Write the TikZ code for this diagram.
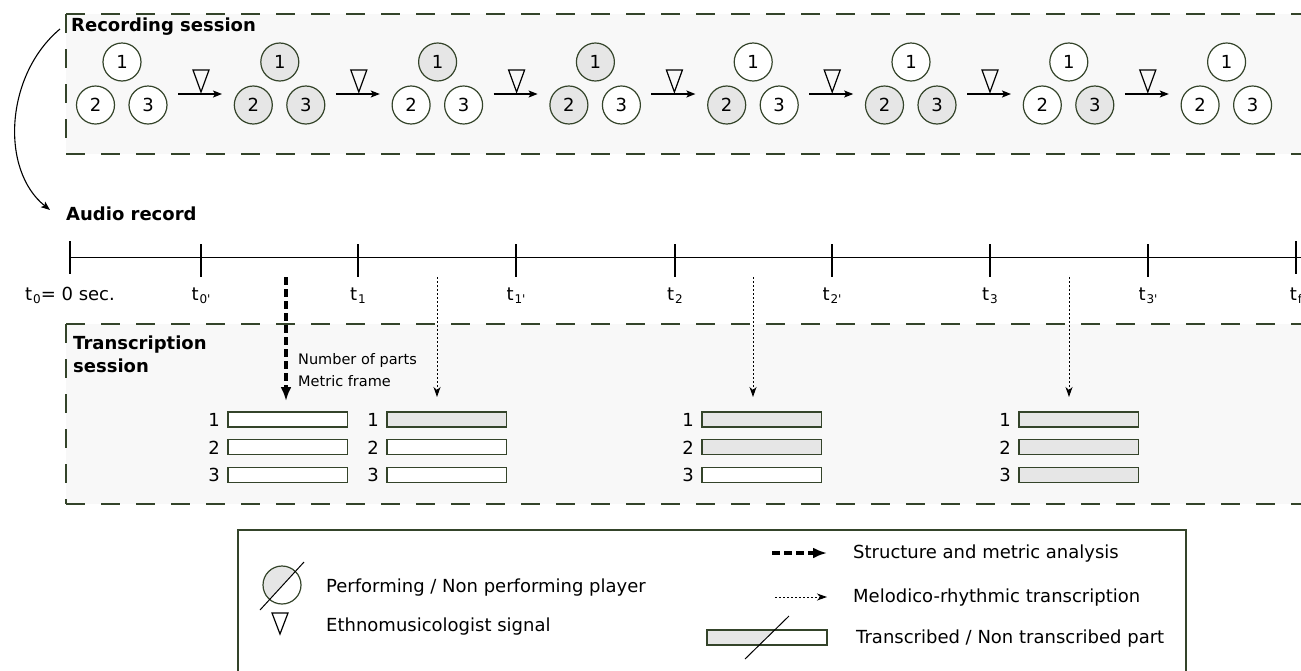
\documentclass[tikz,border=0pt]{standalone}
\usepackage{fontspec}
\setmainfont{DejaVu Sans}
\usetikzlibrary{arrows.meta}
\definecolor{boxfill}{HTML}{F8F8F8}
\definecolor{pfill}{HTML}{E6E6E6}
\definecolor{edgec}{HTML}{34442A}
\newcommand{\tsub}[1]{t\kern1pt\raisebox{-3pt}{\fontsize{12}{12}\selectfont #1}}
\begin{document}
\begin{tikzpicture}[x=1pt,y=-1pt,
  player/.style={circle,draw=edgec,line width=1.2pt,minimum size=38pt,inner sep=0pt,font=\fontsize{18}{18}\selectfont},
  part/.style={rectangle,draw=edgec,line width=1.3pt,minimum width=119.5pt,minimum height=15pt,inner sep=0pt},
  dashbox/.style={draw=edgec,line width=1.3pt,dash pattern=on 19pt off 16pt},
  lbl/.style={font=\fontsize{18}{18}\selectfont,inner sep=0pt,anchor=base west},
  ttl/.style={font=\bfseries\fontsize{18}{18}\selectfont,inner sep=0pt,anchor=base west},
  small/.style={font=\fontsize{14.5}{14.5}\selectfont,inner sep=0pt,anchor=base west},
  tlab/.style={font=\fontsize{18}{18}\selectfont,inner sep=0pt,anchor=base},
  bigarrow/.style={line width=4pt,dash pattern=on 8pt off 4pt,-{Latex[length=14pt,width=11pt]}},
  dotarrow/.style={line width=1pt,dash pattern=on 2pt off 2pt,-{Stealth[length=10pt,width=7pt,inset=3pt]}},
  sigarrow/.style={line width=1.2pt,-{Stealth[length=9pt,width=7pt,inset=2pt]}},
  signal/.style={line width=1.2pt,line join=miter},
  tickmark/.style={line width=1.2pt}
]
\useasboundingbox (0,0) rectangle (1301,670);

% ---------- recording session ----------
\fill[boxfill] (66,14) rectangle (1320,154);
\draw[dashbox] (66,14) -- (1320,14);
\draw[dashbox] (66,14) -- (66,154);
\draw[dashbox] (66,154) -- (1320,154);
\node[ttl] (rec) at (71,31.5) {Recording session};

\foreach \k/\a/\b/\c in {0/white/white/white,1/pfill/pfill/pfill,2/pfill/white/white,3/pfill/pfill/white,4/white/pfill/white,5/white/pfill/pfill,6/white/white/pfill,7/white/white/white}{
  \pgfmathsetmacro{\xx}{122+157.8*\k}
  \node[player,fill=\a] (g\k-1) at (\xx,62) {1};
  \node[player,fill=\b] (g\k-2) at (\xx-26.5,105) {2};
  \node[player,fill=\c] (g\k-3) at (\xx+26,105) {3};
}
\foreach \k in {0,...,6}{
  \pgfmathsetmacro{\xx}{122+157.8*\k}
  \coordinate (as\k) at (\xx+56,94);
  \coordinate (ae\k) at (\xx+100,94);
  \draw[sigarrow] (as\k) -- (ae\k);
  \draw[signal] (\xx+71,70) -- (\xx+87,70) -- (\xx+79,92) -- cycle;
}

% curved arrow
\coordinate (cs) at (60,29);
\coordinate (ce) at (50,210);
\draw[line width=1.1pt,-{Stealth[length=9pt,width=7pt,inset=2pt]}] (cs) .. controls (5,75) and (0,170) .. (ce);

% ---------- audio record ----------
\node[ttl] (aud) at (66,220) {Audio record};
\coordinate (tlA) at (70,257);
\coordinate (tlB) at (1320,257);
\draw[line width=1pt] (tlA) -- (tlB);
\draw[tickmark] (70,241) -- (70,274);
\node[tlab] (lab0) at (70,300) {\tsub{0}= 0 sec.};
\foreach \x/\s [count=\i] in {201/0\textquotesingle,358/1,516/1\textquotesingle,675/2,832/2\textquotesingle,990/3,1148/3\textquotesingle}{
  \draw[tickmark] (\x,244) -- (\x,277);
  \node[tlab] (lab\i) at (\x,300) {\tsub{\s}};
}
\draw[tickmark] (1296,241) -- (1296,274);
\node[tlab] (labf) at (1296,300) {\tsub{f}};

% ---------- transcription session ----------
\fill[boxfill] (66,324) rectangle (1320,504);
\draw[dashbox] (66,324) -- (1320,324);
\draw[dashbox] (66,324) -- (66,504);
\draw[dashbox] (66,504) -- (1320,504);
\node[ttl] (tr1) at (73,349) {Transcription};
\node[ttl] (tr2) at (73,372) {session};

\foreach \g/\L/\fa/\fb/\fc in {A/228/white/white/white,B/387/pfill/white/white,C/702/pfill/pfill/white,D/1019/pfill/pfill/pfill}{
  \node[part,fill=\fa] (\g1) at (\L+59.75,419.5) {};
  \node[part,fill=\fb] (\g2) at (\L+59.75,447) {};
  \node[part,fill=\fc] (\g3) at (\L+59.75,474.7) {};
  \node[tlab] (\g n1) at (\L-14,426.5) {1};
  \node[tlab] (\g n2) at (\L-14,454) {2};
  \node[tlab] (\g n3) at (\L-14,481.7) {3};
}

\coordinate (da0) at (286,277);
\coordinate (da1) at (286,401);
\draw[bigarrow] (da0) -- (da1);
\node[small] (np) at (298,364) {Number of parts};
\node[small] (mf) at (298,386) {Metric frame};
\foreach \x in {437,753,1069}{
  \coordinate (dt\x a) at (\x,277);
  \coordinate (dt\x b) at (\x,397);
  \draw[dotarrow] (dt\x a) -- (dt\x b);
}

% ---------- legend ----------
\draw[edgec,line width=1.3pt] (238,530) rectangle (1186,680);
\begin{scope}
  \clip (282,585) circle (19);
  \fill[pfill] (250,621) -- (314,551) -- (240,530) -- cycle;
\end{scope}
\draw[edgec,line width=1.2pt] (282,585) circle (19);
\coordinate (ls1) at (260,610);
\coordinate (ls2) at (304,562);
\draw[line width=1pt] (ls1) -- (ls2);
\node[lbl] (lperf) at (326,592) {Performing / Non performing player};
\draw[signal] (272,613) -- (288,613) -- (280,634) -- cycle;
\node[lbl] (lsig) at (326,631) {Ethnomusicologist signal};

\coordinate (lda) at (772,553);
\coordinate (ldb) at (827,553);
\draw[bigarrow] (lda) -- (ldb);
\node[lbl] (lstruct) at (853,558) {Structure and metric analysis};
\coordinate (lta) at (775,597);
\coordinate (ltb) at (827,597);
\draw[dotarrow] (lta) -- (ltb);
\node[lbl] (lmel) at (853,602) {Melodico-rhythmic transcription};
\fill[pfill] (707,630) -- (774.7,630) -- (759.3,645) -- (707,645) -- cycle;
\node[part,minimum width=120pt] (lbar) at (767,637.5) {};
\coordinate (lb1) at (745,659);
\coordinate (lb2) at (789,616);
\draw[line width=1pt] (lb1) -- (lb2);
\node[lbl] (ltr) at (856,643) {Transcribed / Non transcribed part};
\end{tikzpicture}
\end{document}
